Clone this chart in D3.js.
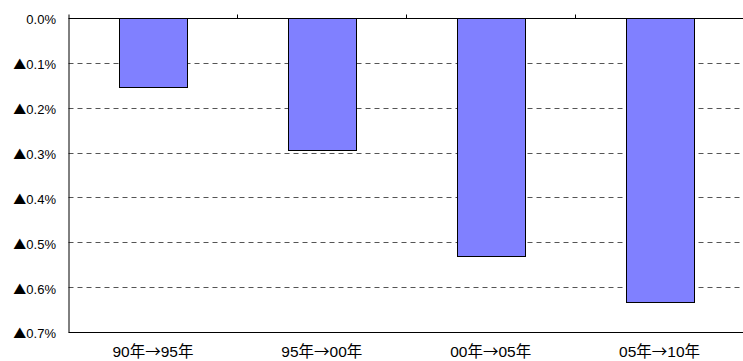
<!DOCTYPE html>
<html>
<head>
<meta charset="utf-8">
<script src="https://cdn.jsdelivr.net/npm/d3@7"></script>
<style>
  html, body { margin: 0; padding: 0; background: #fff; }
  svg { display: block; }
  text { font-family: "Liberation Sans", Arial, "Noto Sans CJK JP", sans-serif; fill: #000; }
  .cjk { font-family: "Noto Sans CJK JP", sans-serif; }
</style>
</head>
<body>
<svg id="chart" width="743" height="361"></svg>
<script>
// Periods and the decline (percentage points) in each
const categories = ["90年→95年", "95年→00年", "00年→05年", "05年→10年"];
const declines = [0.154, 0.294, 0.530, 0.633];
const tickValues = [0, 0.1, 0.2, 0.3, 0.4, 0.5, 0.6, 0.7];
const tickLabels = ["0.0%", "▲0.1%", "▲0.2%", "▲0.3%", "▲0.4%", "▲0.5%", "▲0.6%", "▲0.7%"];

const svg = d3.select("#chart");
const margin = { left: 68.5, right: -1, top: 18, bottom: 29 };
const W = 743, H = 361;
const x0 = margin.left, x1 = W - margin.right;
const y0 = margin.top, y1 = H - margin.bottom;

const x = d3.scaleBand().domain(categories).range([x0, x1]).paddingInner(0.6).paddingOuter(0.3);
const y = d3.scaleLinear().domain([0, 0.7]).range([y0, y1]);

// Put full-width symbols and kanji in a CJK font, digits in a Latin one
function fillMixed(sel, str) {
  sel.text(null);
  const parts = str.match(/[▲→年]+|[^▲→年]+/g) || [];
  parts.forEach(p => {
    const t = sel.append("tspan").text(p);
    if (/[▲→年]/.test(p)) t.attr("class", "cjk");
  });
}

// Dashed gridlines
svg.append("g").selectAll("line")
  .data(tickValues.filter(v => v > 0 && v < 0.7))
  .join("line")
  .attr("x1", x0).attr("x2", x1)
  .attr("y1", d => Math.round(y(d)) + 0.5).attr("y2", d => Math.round(y(d)) + 0.5)
  .attr("stroke", "#555").attr("stroke-width", 1)
  .attr("stroke-dasharray", "5,4");

// Bars hang down from the zero line
svg.append("g").selectAll("rect")
  .data(categories)
  .join("rect")
  .attr("x", d => Math.round(x(d)) + 0.5)
  .attr("y", Math.round(y(0)) + 0.5)
  .attr("width", Math.round(x.bandwidth()))
  .attr("height", (d, i) => Math.round(y(declines[i]) - y(0)))
  .attr("fill", "#8080ff")
  .attr("stroke", "#000")
  .attr("stroke-width", 1);

// Zero line with category boundary ticks above it
const zeroY = Math.round(y(0)) + 0.5;
svg.append("line").attr("x1", x0).attr("x2", x1).attr("y1", zeroY).attr("y2", zeroY)
  .attr("stroke", "#000").attr("stroke-width", 1);
const step = x.step();
svg.append("g").selectAll("line")
  .data(d3.range(1, categories.length))
  .join("line")
  .attr("x1", i => Math.round(x0 + i * step) + 0.5)
  .attr("x2", i => Math.round(x0 + i * step) + 0.5)
  .attr("y1", zeroY - 4).attr("y2", zeroY)
  .attr("stroke", "#000");

// Bottom line
const bottomY = Math.round(y(0.7)) + 0.5;
svg.append("line").attr("x1", x0).attr("x2", x1).attr("y1", bottomY).attr("y2", bottomY)
  .attr("stroke", "#000").attr("stroke-width", 1);

// Left axis
const yAxis = d3.axisLeft(y).tickValues(tickValues)
  .tickFormat((d, i) => tickLabels[i]).tickSize(0).tickPadding(12.5);
const ga = svg.append("g").attr("transform", `translate(${x0},0)`).call(yAxis);
ga.select(".domain").attr("d", `M0.5,${zeroY - 4}V${bottomY}`).attr("stroke", "#000");
ga.selectAll("text")
  .style("font-size", "13px")
  .attr("dy", "0.46em")
  .each(function (d, i) { fillMixed(d3.select(this), tickLabels[i]); });
ga.attr("font-family", null);

// Category labels
svg.append("g").selectAll("text")
  .data(categories)
  .join("text")
  .attr("x", d => x(d) + x.bandwidth() / 2)
  .attr("y", 357)
  .attr("text-anchor", "middle")
  .style("font-size", "15.5px")
  .each(function (d) { fillMixed(d3.select(this), d); });
</script>
</body>
</html>
